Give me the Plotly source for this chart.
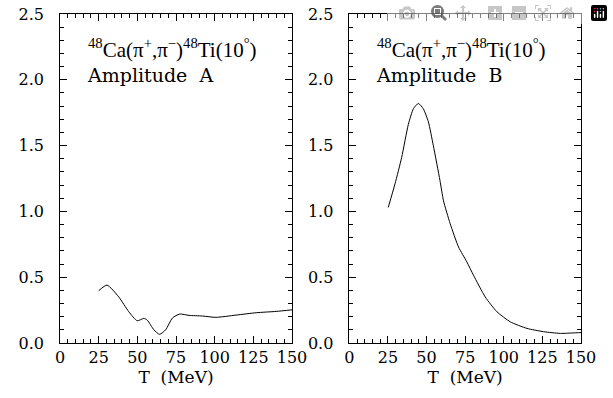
import plotly.graph_objects as go
from plotly.subplots import make_subplots

# Amplitude A (left panel)
t_a = [25, 30.4, 38, 44.5, 49.9, 54.2, 56.4, 60.7, 64.4, 68.3, 72.7, 77.4, 83.4, 92.1, 100.8, 113.8, 126.8, 139.7, 150]
amp_a = [0.397, 0.44, 0.35, 0.237, 0.169, 0.187, 0.174, 0.10, 0.066, 0.10, 0.19, 0.22, 0.21, 0.205, 0.195, 0.212, 0.23, 0.24, 0.252]

# Amplitude B (right panel)
t_b = [25.2, 29.6, 33.9, 38.2, 41.5, 44.7, 47.9, 51.2, 54.4, 58.7, 61, 65.3, 70.7, 76.1, 80.4, 88, 95.6, 104.2, 115, 125.8, 136.6, 147.4, 150]
amp_b = [1.03, 1.21, 1.41, 1.66, 1.78, 1.82, 1.78, 1.68, 1.50, 1.235, 1.08, 0.907, 0.73, 0.616, 0.515, 0.35, 0.237, 0.161, 0.111, 0.086, 0.073, 0.078, 0.079]

x_ticks = [0, 25, 50, 75, 100, 125, 150]
y_ticks = [0.0, 0.5, 1.0, 1.5, 2.0, 2.5]
y_labels = ["0.0", "0.5", "1.0", "1.5", "2.0", "2.5"]

reaction = "<sup>48</sup>Ca(π<sup>+</sup>,π<sup>−</sup>)<sup>48</sup>Ti(10<sup>°</sup>)"
panel_labels = ["Amplitude  A", "Amplitude  B"]
x_title = "T  (MeV)"

fig = make_subplots(rows=1, cols=2)
fig.add_trace(go.Scatter(x=t_a, y=amp_a, mode="lines", line=dict(color="black", width=1, shape="spline", smoothing=0.6), showlegend=False), row=1, col=1)
fig.add_trace(go.Scatter(x=t_b, y=amp_b, mode="lines", line=dict(color="black", width=1, shape="spline", smoothing=0.6), showlegend=False), row=1, col=2)

W, H = 613, 398
ydom = [1 - 343 / H, 1 - 14 / H]
xdoms = [[60 / W, 292 / W], [349.3 / W, 581 / W]]
tickfont = dict(family="DejaVu Serif", size=16, color="black")
pad = "\u00a0\u00a0\u200a"

for i, xd in enumerate(xdoms, start=1):
    xa = "xaxis" if i == 1 else "xaxis2"
    ya = "yaxis" if i == 1 else "yaxis2"
    fig.layout[xa].update(
        domain=xd, range=[0, 150], tickvals=x_ticks, ticktext=[str(v) for v in x_ticks],
        ticks="inside", ticklen=7, tickwidth=1, tickcolor="black",
        minor=dict(dtick=5, ticks="inside", ticklen=4, tickwidth=1, tickcolor="black"),
        showline=True, linecolor="black", linewidth=1, mirror="ticks",
        showgrid=False, zeroline=False, tickfont=tickfont,
        title=dict(text=x_title, font=dict(family="DejaVu Serif", size=17, color="black"), standoff=0),
    )
    fig.layout[ya].update(
        domain=ydom, range=[0, 2.5], tickvals=y_ticks, ticktext=[s + pad for s in y_labels],
        ticks="inside", ticklen=7, tickwidth=1, tickcolor="black",
        minor=dict(dtick=0.1, ticks="inside", ticklen=4, tickwidth=1, tickcolor="black"),
        showline=True, linecolor="black", linewidth=1, mirror="ticks",
        showgrid=False, zeroline=False, tickfont=tickfont,
    )
    xref = "x" if i == 1 else "x2"
    yref = "y" if i == 1 else "y2"
    fig.add_annotation(x=16.8, y=2.24, xref=xref, yref=yref, text=reaction, showarrow=False,
                       xanchor="left", yanchor="middle",
                       font=dict(family="Liberation Serif", size=21, color="black"))
    fig.add_annotation(x=16.0, y=2.04, xref=xref, yref=yref, text=panel_labels[i - 1], showarrow=False,
                       xanchor="left", yanchor="middle",
                       font=dict(family="DejaVu Serif", size=19, color="black"))

fig.update_layout(
    width=W, height=H, margin=dict(l=0, r=0, t=0, b=0, autoexpand=False),
    paper_bgcolor="white", plot_bgcolor="white", showlegend=False,
)
fig.write_html("out.html", post_script="document.body.style.margin='0';")
